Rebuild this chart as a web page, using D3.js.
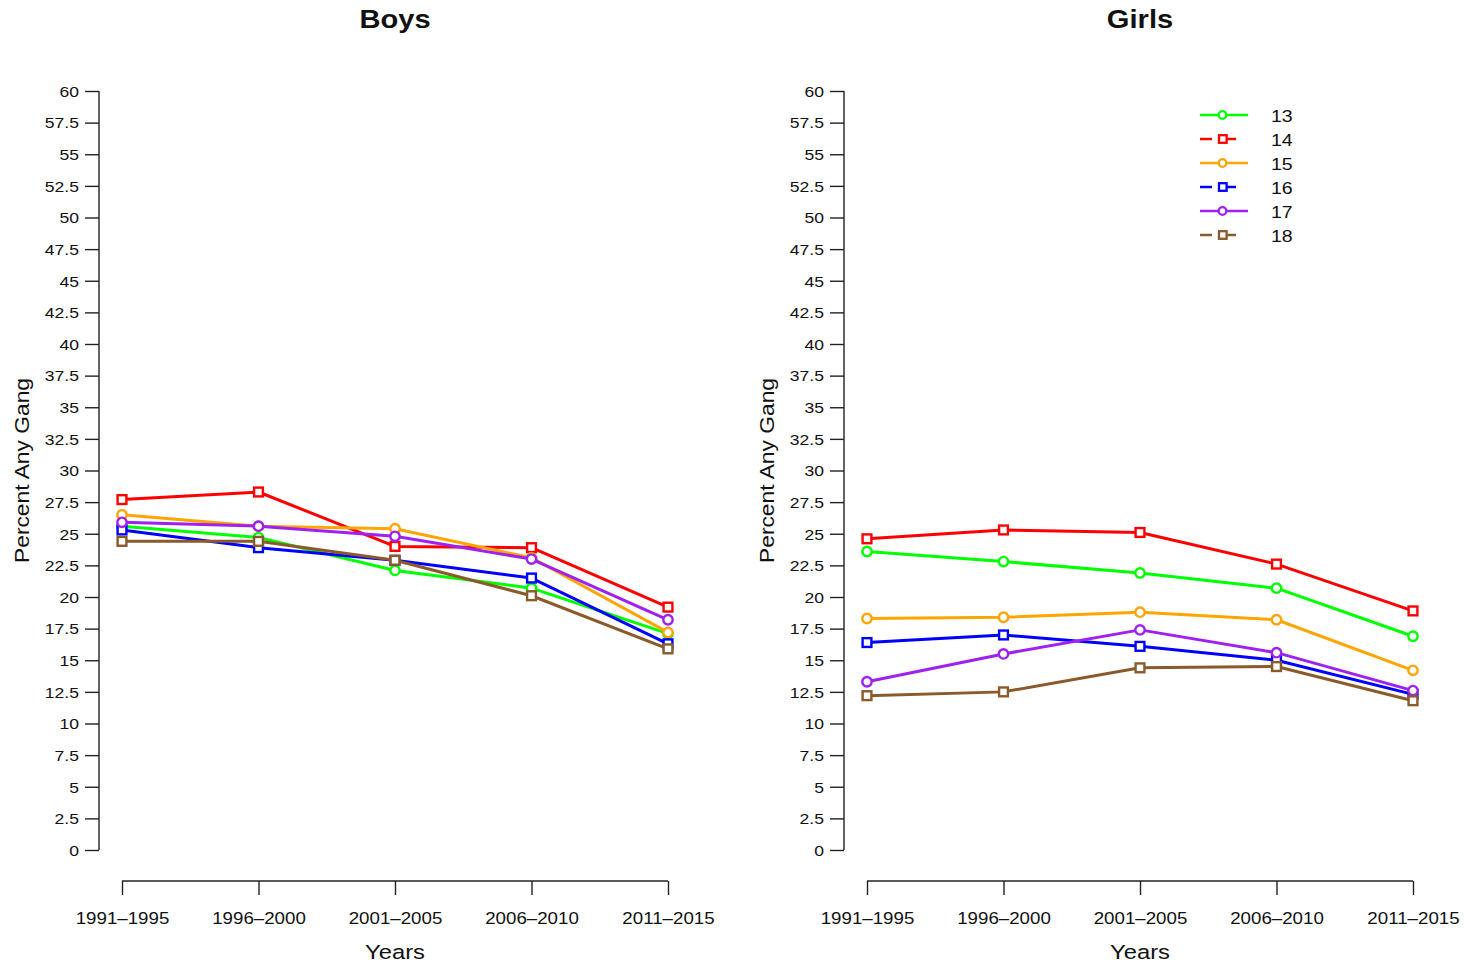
<!DOCTYPE html>
<html>
<head>
<meta charset="utf-8">
<script src="https://cdn.jsdelivr.net/npm/d3@7"></script>
<style>
  html, body { margin: 0; padding: 0; background: #fff; }
  svg { display: block; font-family: "Liberation Sans", Arial, Helvetica, sans-serif; }
</style>
</head>
<body>
<svg id="chart" width="1467" height="969"></svg>
<script>
// Period categories on the x axis
const periods = ["1991\u20131995", "1996\u20132000", "2001\u20132005", "2006\u20132010", "2011\u20132015"];

// Age groups shown as separate series
const ages = ["13", "14", "15", "16", "17", "18"];
const ageColors = ["#00ff00", "#ff0000", "#ffa500", "#0000ff", "#a020f0", "#8b5a2b"];
const ageMarkers = ["circle", "square", "circle", "square", "circle", "square"];

// Y axis tick values (percent)
const yTicks = d3.range(0, 60.01, 2.5);

// Percent reporting any gang involvement, boys, by age
const boys13 = [25.6, 24.7, 22.1, 20.7, 17.1];
const boys14 = [27.7, 28.3, 24.0, 23.9, 19.2];
const boys15 = [26.5, 25.6, 25.4, 23.1, 17.2];
const boys16 = [25.3, 23.9, 22.9, 21.5, 16.3];
const boys17 = [25.9, 25.6, 24.8, 23.0, 18.2];
const boys18 = [24.4, 24.4, 22.9, 20.1, 15.9];

// Percent reporting any gang involvement, girls, by age
const girls13 = [23.6, 22.8, 21.9, 20.7, 16.9];
const girls14 = [24.6, 25.3, 25.1, 22.6, 18.9];
const girls15 = [18.3, 18.4, 18.8, 18.2, 14.2];
const girls16 = [16.4, 17.0, 16.1, 15.0, 12.3];
const girls17 = [13.3, 15.5, 17.4, 15.6, 12.6];
const girls18 = [12.2, 12.5, 14.4, 14.5, 11.8];

const panels = [
  { title: "Boys",  series: [boys13, boys14, boys15, boys16, boys17, boys18],       left: 99,  legend: false },
  { title: "Girls", series: [girls13, girls14, girls15, girls16, girls17, girls18], left: 844, legend: true }
];

const svg = d3.select("#chart");
const yTop = 91, yBottom = 850, xAxisY = 881;
const plotStart = 23, plotSpan = 546; // first category offset from y axis, width to last category
const SX = 1.17;                       // horizontal widening applied to all lettering
const ink = "#111";

const fmt = v => (Number.isInteger(v) ? String(v) : v.toFixed(1));

// Text placed at (x, y), widened along its own baseline
function label(parent, x, y, str, size, opts = {}) {
  const rot = opts.rotate ? ` rotate(${opts.rotate})` : "";
  return parent.append("text")
    .attr("transform", `translate(${x},${y})${rot} scale(${opts.sx || SX},1)`)
    .attr("text-anchor", opts.anchor || "middle")
    .attr("font-size", size)
    .attr("font-weight", opts.weight || null)
    .attr("fill", ink)
    .text(str);
}

panels.forEach(p => {
  const g = svg.append("g");
  const x = d3.scalePoint().domain(periods).range([p.left + plotStart, p.left + plotStart + plotSpan]);
  const y = d3.scaleLinear().domain([0, 60]).range([yBottom, yTop]);

  // Y axis
  const yAxis = g.append("g")
    .attr("transform", `translate(${p.left},0)`)
    .call(d3.axisLeft(y).tickValues(yTicks).tickFormat(fmt).tickSize(14).tickPadding(6));
  yAxis.select(".domain").attr("d", `M0,${yTop}V${yBottom}`).attr("stroke", "#222").attr("stroke-width", 1.4);
  yAxis.selectAll(".tick line").attr("stroke", "#222").attr("stroke-width", 1.4);
  yAxis.selectAll(".tick text")
    .attr("x", null).attr("transform", `translate(-20,0.5) scale(${SX},1)`)
    .attr("font-size", 15).attr("fill", ink).attr("font-family", null);

  // X axis
  const xAxis = g.append("g")
    .attr("transform", `translate(0,${xAxisY})`)
    .call(d3.axisBottom(x).tickSize(14).tickPadding(18));
  const [x0, x1] = x.range();
  xAxis.select(".domain").attr("d", `M${x0},0H${x1}`).attr("stroke", "#222").attr("stroke-width", 1.4);
  xAxis.selectAll(".tick line").attr("stroke", "#222").attr("stroke-width", 1.4);
  xAxis.selectAll(".tick text")
    .attr("y", null).attr("transform", `translate(0,31.5) scale(${SX},1)`)
    .attr("font-size", 16).attr("fill", ink).attr("font-family", null);

  // Titles and axis labels
  const mid = (x0 + x1) / 2;
  label(g, mid, 28, p.title, 26, { weight: "bold", sx: 1.12 });
  label(g, mid, 959, "Years", 20.5, { sx: 1.16 });
  label(g, p.left - 70, (yTop + yBottom) / 2, "Percent Any Gang", 20, { rotate: -90, sx: 1.14 });

  // Series lines and markers
  const line = d3.line().x((d, i) => x(periods[i])).y(d => y(d));
  p.series.forEach((vals, si) => {
    const col = ageColors[si];
    g.append("path").datum(vals).attr("d", line)
      .attr("fill", "none").attr("stroke", col).attr("stroke-width", 3).attr("stroke-linejoin", "round");
    const pts = g.append("g").selectAll("g").data(vals).join("g")
      .attr("transform", (d, i) => `translate(${x(periods[i])},${y(d)})`);
    if (ageMarkers[si] === "circle") {
      pts.append("circle").attr("r", 4.7).attr("fill", "#fff").attr("stroke", col).attr("stroke-width", 2.4);
    } else {
      pts.append("rect").attr("x", -4.4).attr("y", -4.4).attr("width", 8.8).attr("height", 8.8)
        .attr("fill", "#fff").attr("stroke", col).attr("stroke-width", 2.4);
    }
  });

  // Legend
  if (p.legend) {
    const lg = g.append("g");
    ages.forEach((a, i) => {
      const ry = 115 + i * 24;
      const col = ageColors[i];
      const isSq = ageMarkers[i] === "square";
      lg.append("line").attr("x1", 1200).attr("x2", 1248).attr("y1", ry).attr("y2", ry)
        .attr("stroke", col).attr("stroke-width", 2.6)
        .attr("stroke-dasharray", isSq ? "12,12" : null);
      if (isSq) {
        lg.append("rect").attr("x", 1219).attr("y", ry - 3.8).attr("width", 7.6).attr("height", 7.6)
          .attr("fill", "#fff").attr("stroke", col).attr("stroke-width", 2.3);
      } else {
        lg.append("circle").attr("cx", 1222.5).attr("cy", ry).attr("r", 3.8)
          .attr("fill", "#fff").attr("stroke", col).attr("stroke-width", 2.3);
      }
      label(lg, 1271, ry + 6.5, a, 17, { anchor: "start", sx: 1.15 });
    });
  }
});
</script>
</body>
</html>
